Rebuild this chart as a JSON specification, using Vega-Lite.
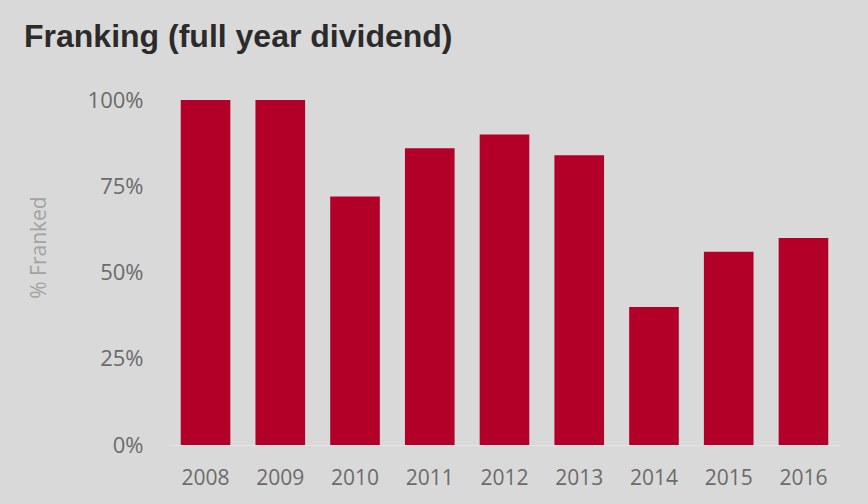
{
  "$schema": "https://vega.github.io/schema/vega-lite/v6.json",
  "width": 671,
  "height": 345,
  "autosize": "none",
  "padding": {"left": 169, "top": 100, "right": 28, "bottom": 59},
  "background": "#d9d9d9",
  "title": {
    "text": "Franking (full year dividend)",
    "anchor": "start",
    "frame": "group",
    "font": "Liberation Sans",
    "fontSize": 32,
    "fontWeight": "bold",
    "color": "#2b2b2b",
    "baseline": "alphabetic",
    "offset": 0,
    "dx": -145,
    "dy": -10
  },
  "data": {
    "values": [
      {"year": "2008", "franked": 1.0},
      {"year": "2009", "franked": 1.0},
      {"year": "2010", "franked": 0.72},
      {"year": "2011", "franked": 0.86},
      {"year": "2012", "franked": 0.90},
      {"year": "2013", "franked": 0.84},
      {"year": "2014", "franked": 0.40},
      {"year": "2015", "franked": 0.56},
      {"year": "2016", "franked": 0.60}
    ]
  },
  "mark": {"type": "bar", "color": "#b30029"},
  "encoding": {
    "x": {
      "field": "year",
      "type": "ordinal",
      "scale": {"paddingInner": 0.336, "paddingOuter": 0.157},
      "axis": {
        "title": null,
        "labelAngle": 0,
        "labelFont": "Open Sans",
        "labelFontSize": 21,
        "labelColor": "#6b6b6b",
        "ticks": false,
        "tickSize": 0,
        "labelPadding": 22,
        "domain": true,
        "domainColor": "#e4e4e4",
        "domainWidth": 1,
        "grid": false
      }
    },
    "y": {
      "field": "franked",
      "type": "quantitative",
      "scale": {"domain": [0, 1]},
      "axis": {
        "title": "% Franked",
        "titleFont": "Open Sans",
        "titleFontSize": 21,
        "titleFontWeight": "normal",
        "titleColor": "#a3a3a3",
        "titlePadding": 38,
        "titleY": 147,
        "values": [0, 0.25, 0.5, 0.75, 1],
        "format": ".0%",
        "labelFont": "Open Sans",
        "labelFontSize": 22,
        "labelColor": "#6b6b6b",
        "ticks": false,
        "tickSize": 0,
        "labelPadding": 26,
        "domain": false,
        "grid": false
      }
    }
  },
  "config": {"view": {"stroke": null}}
}
